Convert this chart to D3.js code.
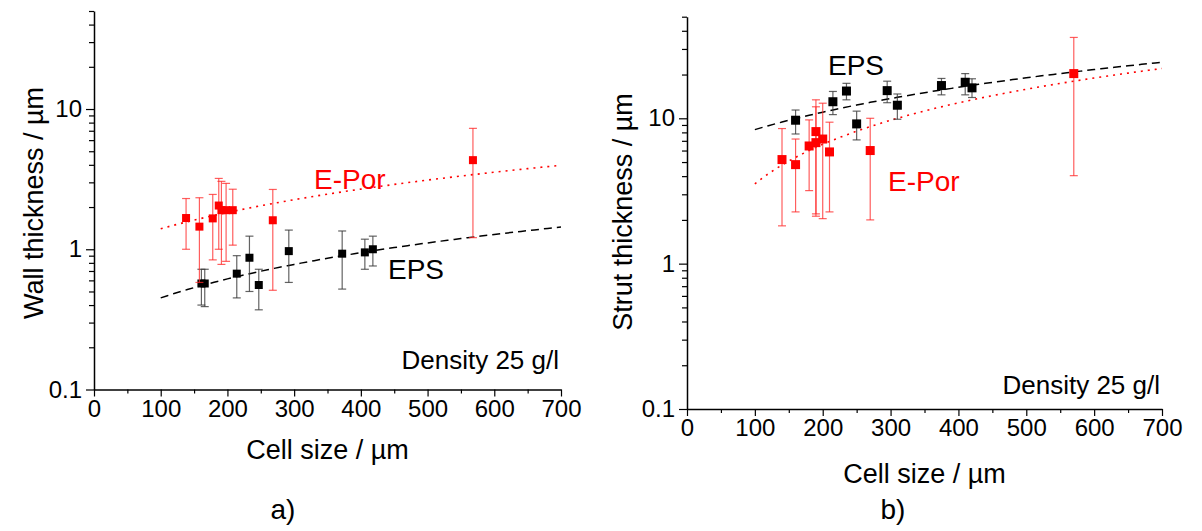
<!DOCTYPE html>
<html>
<head>
<meta charset="utf-8">
<script src="https://cdn.jsdelivr.net/npm/d3@7"></script>
<style>
  body { margin: 0; background: #fff; }
  svg text { font-family: "Liberation Sans", Arial, sans-serif; }
</style>
</head>
<body>
<div id="viz"></div>
<script>
// ---- data ----
// a) wall thickness
const wallEpsX  = [161, 166, 214, 233, 247, 292, 372, 406, 418];
const wallEpsY  = [0.57, 0.57, 0.67, 0.87, 0.556, 0.97, 0.93, 0.95, 1.0];
const wallEpsLo = [0.40, 0.39, 0.45, 0.50, 0.37, 0.58, 0.52, 0.72, 0.76];
const wallEpsHi = [0.72, 0.72, 0.90, 1.24, 0.72, 1.37, 1.35, 1.18, 1.24];

const wallPorX  = [138, 158, 178, 187, 191, 198, 208, 268, 568];
const wallPorY  = [1.67, 1.45, 1.66, 2.05, 1.9, 1.9, 1.9, 1.61, 4.32];
const wallPorLo = [1.0, 0.58, 0.84, 1.0, 0.78, 0.82, 1.07, 0.51, 1.21];
const wallPorHi = [2.30, 2.33, 2.46, 3.2, 3.05, 2.95, 2.68, 2.67, 7.28];

// b) strut thickness
const strutEpsX  = [160, 215, 235, 250, 295, 310, 375, 410, 420];
const strutEpsY  = [9.7, 13.0, 15.4, 9.15, 15.5, 12.3, 16.8, 17.7, 16.2];
const strutEpsLo = [7.8, 10.6, 13.4, 7.1, 12.8, 9.85, 14.5, 14.5, 13.9];
const strutEpsHi = [11.4, 15.3, 17.4, 11.2, 18.0, 14.7, 18.8, 20.3, 18.7];

const strutPorX  = [140, 160, 180, 190, 190, 200, 210, 270, 570];
const strutPorY  = [5.2, 4.8, 6.45, 8.1, 6.8, 7.2, 5.87, 6.0, 20.3];
const strutPorLo = [1.82, 2.27, 3.18, 2.12, 2.2, 2.04, 2.27, 2.0, 4.03];
const strutPorHi = [8.5, 7.2, 9.75, 13.4, 12.0, 12.7, 9.4, 10.0, 36];

// linear fits, start and end point [x, y]
const fitWallEps  = [[100, 0.45], [700, 1.44]];
const fitWallPor  = [[100, 1.40], [700, 3.97]];
const fitStrutEps = [[100, 8.36], [700, 24.3]];
const fitStrutPor = [[100, 3.54], [700, 22.0]];

// ticks
const xMajor = [0, 100, 200, 300, 400, 500, 600, 700];
const xMinor = [50, 150, 250, 350, 450, 550, 650];
const yMajor = [0.1, 1, 10];
const yMinor = [0.2, 0.3, 0.4, 0.5, 0.6, 0.7, 0.8, 0.9, 2, 3, 4, 5, 6, 7, 8, 9, 20, 30, 40, 50];

const svg = d3.select("#viz")
  .append("svg")
  .attr("width", 1202)
  .attr("height", 531);

// zip the small arrays into point objects
function pts(xs, ys, lo, hi) {
  return xs.map((x, i) => ({x: x, y: ys[i], lo: lo[i], hi: hi[i]}));
}

function drawPanel(p) {
  const g = svg.append("g");
  const x = d3.scaleLinear().domain([0, 700]).range(p.xr);
  const y = d3.scaleLog().domain([0.1, 50]).range(p.yr);

  // fit lines (straight in data space, curved on the log axis)
  function fitLine(f, color, dash, width) {
    const t = d3.range(0, 61).map(i => i / 60);
    const ix = d3.interpolateNumber(f[0][0], f[1][0]);
    const iy = d3.interpolateNumber(f[0][1], f[1][1]);
    g.append("path")
      .datum(t)
      .attr("fill", "none")
      .attr("stroke", color)
      .attr("stroke-width", width)
      .attr("stroke-dasharray", dash)
      .attr("d", d3.line().x(d => x(ix(d))).y(d => y(iy(d))));
  }

  function series(data, barColor, fill, size) {
    const s = g.append("g");
    const cap = 4;
    s.selectAll("line.bar").data(data).enter().append("line")
      .attr("x1", d => x(d.x)).attr("x2", d => x(d.x))
      .attr("y1", d => y(d.lo)).attr("y2", d => y(d.hi))
      .attr("stroke", barColor).attr("stroke-width", 1.2);
    s.selectAll("line.capTop").data(data).enter().append("line")
      .attr("x1", d => x(d.x) - cap).attr("x2", d => x(d.x) + cap)
      .attr("y1", d => y(d.hi)).attr("y2", d => y(d.hi))
      .attr("stroke", barColor).attr("stroke-width", 1.2);
    s.selectAll("line.capBot").data(data).enter().append("line")
      .attr("x1", d => x(d.x) - cap).attr("x2", d => x(d.x) + cap)
      .attr("y1", d => y(d.lo)).attr("y2", d => y(d.lo))
      .attr("stroke", barColor).attr("stroke-width", 1.2);
    s.selectAll("rect").data(data).enter().append("rect")
      .attr("x", d => x(d.x) - size / 2)
      .attr("y", d => y(d.y) - size / 2)
      .attr("width", size).attr("height", size)
      .attr("fill", fill);
  }

  fitLine(p.fitEps, "#000", "8,5", 1.5);
  fitLine(p.fitPor, "#ff0000", "2,5", 1.6);
  series(p.eps, "rgba(60,60,60,0.8)", "#000", p.ms);
  series(p.por, "rgba(255,40,40,0.75)", "#ff0000", p.ms);

  // axes
  const xAxis = g.append("g").attr("transform", `translate(0,${p.yr[0]})`)
    .call(d3.axisBottom(x).tickValues(xMajor).tickSize(7).tickSizeOuter(0).tickPadding(3));
  g.append("g").attr("transform", `translate(0,${p.yr[0]})`)
    .call(d3.axisBottom(x).tickValues(xMinor).tickSize(4).tickFormat("")).select(".domain").remove();
  const yAxis = g.append("g").attr("transform", `translate(${p.xr[0]},0)`)
    .call(d3.axisLeft(y).tickValues(yMajor).tickSize(8).tickSizeOuter(0).tickPadding(4)
      .tickFormat(d3.format("~g")));
  g.append("g").attr("transform", `translate(${p.xr[0]},0)`)
    .call(d3.axisLeft(y).tickValues(yMinor).tickSize(5).tickFormat("")).select(".domain").remove();

  g.selectAll(".domain").attr("stroke", "#000").attr("stroke-width", 1.5);
  g.selectAll(".tick line").attr("stroke", "#000").attr("stroke-width", 1.2);
  xAxis.selectAll("text").attr("font-size", 24).attr("fill", "#000")
    .attr("font-family", "Liberation Sans, Arial, sans-serif");
  yAxis.selectAll("text").attr("font-size", 24).attr("fill", "#000")
    .attr("font-family", "Liberation Sans, Arial, sans-serif");

  // titles and notes
  g.append("text")
    .attr("x", (p.xr[0] + p.xr[1]) / 2).attr("y", p.xTitleY)
    .attr("text-anchor", "middle").attr("font-size", 27)
    .text("Cell size / µm");
  g.append("text")
    .attr("transform", `translate(${p.yTitleX},${p.yTitleY}) rotate(-90)`)
    .attr("text-anchor", "middle").attr("font-size", 27)
    .text(p.yTitle);
  g.append("text")
    .attr("x", p.xr[1] - 2).attr("y", p.densY)
    .attr("text-anchor", "end").attr("font-size", 26)
    .text("Density 25 g/l");
  g.append("text")
    .attr("x", p.porLabel[0]).attr("y", p.porLabel[1])
    .attr("font-size", 28).attr("fill", "#ff0000")
    .text("E-Por");
  g.append("text")
    .attr("x", p.epsLabel[0]).attr("y", p.epsLabel[1])
    .attr("font-size", 28).attr("fill", "#000")
    .text("EPS");
  g.append("text")
    .attr("x", p.tag[0]).attr("y", p.tag[1])
    .attr("text-anchor", "middle").attr("font-size", 28)
    .text(p.tagText);
}

drawPanel({
  xr: [94, 561], yr: [389.5, 11],
  ms: 8,
  eps: pts(wallEpsX, wallEpsY, wallEpsLo, wallEpsHi),
  por: pts(wallPorX, wallPorY, wallPorLo, wallPorHi),
  fitEps: fitWallEps, fitPor: fitWallPor,
  xTitleY: 459, yTitle: "Wall thickness / µm", yTitleX: 43, yTitleY: 203,
  densY: 369,
  porLabel: [314, 189], epsLabel: [388, 279],
  tag: [283, 519], tagText: "a)"
});

drawPanel({
  xr: [687, 1162], yr: [409, 16.7],
  ms: 9,
  eps: pts(strutEpsX, strutEpsY, strutEpsLo, strutEpsHi),
  por: pts(strutPorX, strutPorY, strutPorLo, strutPorHi),
  fitEps: fitStrutEps, fitPor: fitStrutPor,
  xTitleY: 483, yTitle: "Strut thickness / µm", yTitleX: 632, yTitleY: 212,
  densY: 394,
  porLabel: [888, 191], epsLabel: [828, 75],
  tag: [893, 519], tagText: "b)"
});
</script>
</body>
</html>
